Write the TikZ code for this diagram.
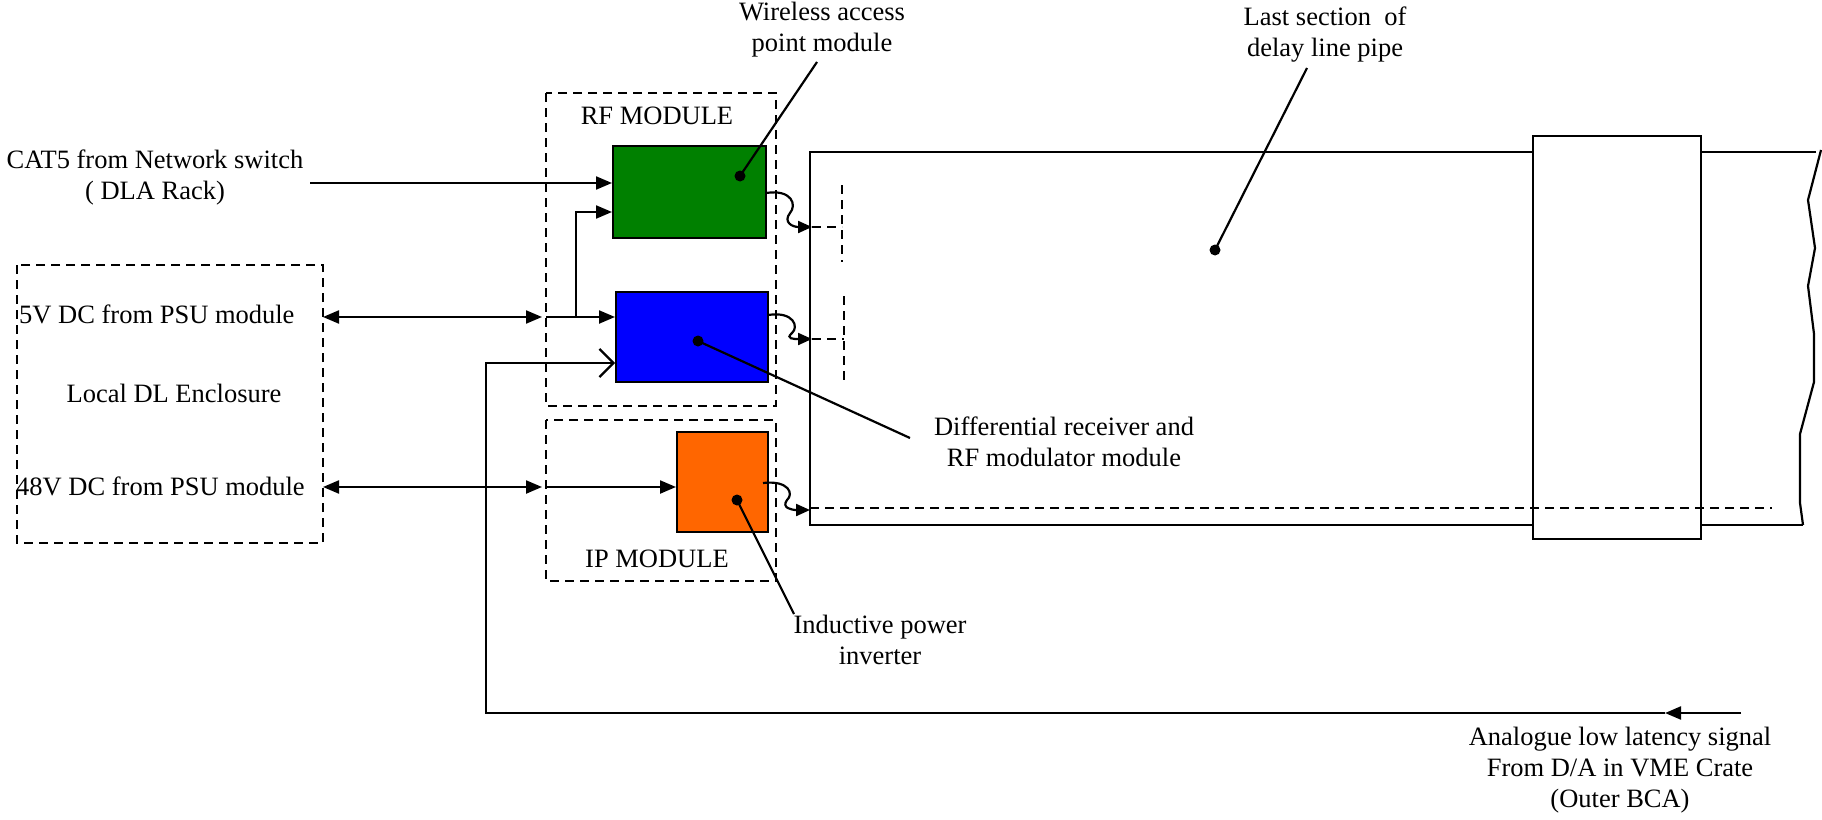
\documentclass[tikz,border=0pt]{standalone}
\usepackage{fontspec}
\setmainfont{Liberation Serif}
\usetikzlibrary{arrows.meta}
\definecolor{wapgreen}{HTML}{008000}
\definecolor{rfblue}{HTML}{0000FF}
\definecolor{iporange}{HTML}{FF6600}
\begin{document}
\begin{tikzpicture}[x=1pt,y=-1pt,
  txt/.style={font=\fontsize{26.5}{31}\selectfont, inner sep=0pt, align=center},
  ln/.style={line width=2.2pt},
  dsh/.style={line width=2pt, dash pattern=on 9pt off 6pt},
  tip/.style={ln, -{Triangle[length=16pt,width=13pt]}},
  dtip/.style={ln, {Triangle[length=16pt,width=13pt]}-{Triangle[length=16pt,width=13pt]}},
  smalltip/.style={ln, -{Triangle[length=14pt,width=12pt]}},
  opentip/.style={ln, -{Straight Barb[length=14pt,width=28pt,line width=2.2pt]}},
  modbox/.style={draw=black, line width=2pt, inner sep=0pt},
  leader/.style={ln},
  dotc/.style={fill=black, circle, inner sep=0pt, minimum size=11pt}
]
\useasboundingbox (0,0) rectangle (1822,819);

% ---- dashed enclosures
\draw[dsh] (17,265) rectangle (323,543);
\draw[dsh] (546,93) rectangle (776,406);
\draw[dsh] (546,420) rectangle (776,581);

% ---- pipe
\draw[ln] (1816,152) -- (810,152) -- (810,525) -- (1803,525);
\draw[ln] (1821,150) -- (1808,200) -- (1815,248) -- (1808,286) -- (1814,334)
  -- (1814,382) -- (1800,434) -- (1800,503) -- (1803,525);
\filldraw[fill=white, draw=black, line width=2.2pt] (1533,136) rectangle (1701,539);

% ---- dashed inner lines
\draw[dsh] (842,185) -- (842,262);
\draw[dsh] (812,227) -- (842,227);
\draw[dsh] (844,296) -- (844,381);
\draw[dsh] (812,339) -- (844,339);
\draw[dsh] (810,508) -- (1772,508);

% ---- module boxes
\node[modbox, fill=wapgreen, minimum width=153pt, minimum height=92pt] (wap) at (689.5,192) {};
\node[modbox, fill=rfblue, minimum width=152pt, minimum height=90pt] (rfm) at (692,337) {};
\node[modbox, fill=iporange, minimum width=91pt, minimum height=100pt] (ipm) at (722.5,482) {};

% ---- texts
\node[txt] (twap) at (822,30) {Wireless access\\point module};
\node[txt] (tpipe) at (1325,35) {Last section\ \ of\\delay line pipe};
\node[txt] (tcat) at (155,177) {CAT5 from Network switch\\( DLA Rack)};
\node[txt] (trf) at (657,116) {RF MODULE};
\node[txt] (tip) at (657,559) {IP MODULE};
\node[txt, anchor=west] (t5v) at (19,314) {5V DC from PSU module};
\node[txt] (tlocal) at (174,393) {Local DL Enclosure};
\node[txt, anchor=west] (t48) at (16,486) {48V DC from PSU module};
\node[txt] (tdiff) at (1064,442) {Differential receiver and\\RF modulator module};
\node[txt] (tind) at (880,640) {Inductive power\\inverter};
\node[txt] (tana) at (1620,770) {Analogue low latency signal\\From D/A in VME Crate\\(Outer BCA)};

% ---- coordinates
\coordinate (catS) at (310,183);
\coordinate (v5L) at (323,317);
\coordinate (v5R) at (542,317);
\coordinate (v5a) at (546,317);
\coordinate (v5b) at (576,317);
\coordinate (v5c) at (576,212);
\coordinate (v48L) at (323,487);
\coordinate (v48R) at (542,487);
\coordinate (v48a) at (546,487);
\coordinate (anaR) at (1741,713);
\coordinate (anaM) at (1665,713);
\coordinate (anaC) at (486,713);
\coordinate (anaU) at (486,363);
\coordinate (pdot) at (1215,250);
\coordinate (wdot) at (740,176);
\coordinate (bdot) at (698,341);
\coordinate (odot) at (737,500);
\coordinate (wl) at (817,62);
\coordinate (pl) at (1307,68);
\coordinate (bl) at (910,438);
\coordinate (ol) at (794,614);

% ---- connectors
\draw[tip] (catS) -- (catS -| wap.west);
\draw[dtip] (v5L) -- (v5R);
\draw[tip] (v5a) -- (v5a -| rfm.west);
\draw[tip] (v5b) -- (v5c) -- (v5c -| wap.west);
\draw[dtip] (v48L) -- (v48R);
\draw[tip] (v48a) -- (v48a -| ipm.west);
\draw[tip] (anaR) -- (anaM);
\draw[opentip] (anaM) -- (anaC) -- (anaU) -- (anaU -| rfm.west);

% wavy RF links
\draw[smalltip] (766,193) .. controls (792,189) and (797,205) .. (790,213)
  .. controls (783,222) and (792,227) .. (812,227);
\draw[smalltip] (768,315) .. controls (794,311) and (799,327) .. (792,333)
  .. controls (785,339) and (794,339) .. (812,339);
\draw[smalltip] (763,483) .. controls (789,480) and (794,494) .. (787,500)
  .. controls (781,508) and (792,510) .. (810,510);

% ---- leaders
\draw[leader] (wdot) -- (wl);
\draw[leader] (pdot) -- (pl);
\draw[leader] (bdot) -- (bl);
\draw[leader] (odot) -- (ol);
\node[dotc] at (wdot) {};
\node[dotc] at (pdot) {};
\node[dotc] at (bdot) {};
\node[dotc] at (odot) {};
\end{tikzpicture}
\end{document}
